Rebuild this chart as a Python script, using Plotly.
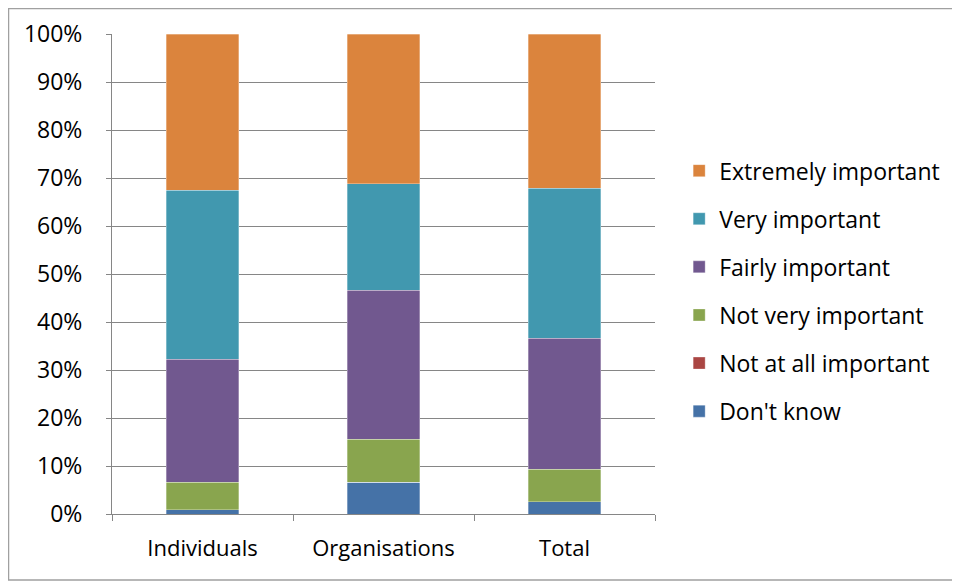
import plotly.graph_objects as go

categories = ["Individuals", "Organisations", "Total"]
series_names = ["Don't know", "Not at all important", "Not very important",
                "Fairly important", "Very important", "Extremely important"]
dont_know = [0.9, 6.6, 2.6]
not_at_all = [0.0, 0.0, 0.0]
not_very = [5.7, 9.0, 6.7]
fairly = [25.6, 31.0, 27.3]
very = [35.2, 22.2, 31.3]
extremely = [32.6, 31.2, 32.1]
colors = ["#4572A7", "#AA4643", "#89A54E", "#71588F", "#4198AF", "#DB843D"]
y_ticks = [0, 10, 20, 30, 40, 50, 60, 70, 80, 90, 100]
y_tick_text = [f"{v}%" for v in y_ticks]

values = [dont_know, not_at_all, not_very, fairly, very, extremely]

fig = go.Figure()
for i, (name, vals, col) in enumerate(zip(series_names, values, colors)):
    fig.add_trace(go.Bar(
        x=categories, y=vals, name=name, legendgroup=name,
        legendrank=100 - i,
        marker=dict(color=col, line=dict(width=0.6, color="rgba(255,255,255,0.5)")),
    ))

font = "'Open Sans', sans-serif"
W, H = 952, 573
fig.update_layout(
    barmode="stack",
    bargap=0.6,
    width=W, height=H,
    margin=dict(l=104, r=305, t=26, b=67, autoexpand=False),
    paper_bgcolor="white", plot_bgcolor="white",
    font=dict(family=font, size=23, color="black"),
    showlegend=True,
    legend=dict(traceorder="grouped", tracegroupgap=15.2,
                x=1.0445, xanchor="left", y=0.76, yanchor="top",
                font=dict(size=23), itemwidth=30),
    xaxis=dict(showline=True, linecolor="#868686", linewidth=1, automargin=False,
               ticks="outside", tickson="boundaries", ticklen=6, tickcolor="#868686",
               showgrid=False, tickfont=dict(size=22), ticklabelstandoff=15),
    yaxis=dict(range=[0, 100], tickmode="array", tickvals=y_ticks, ticktext=y_tick_text,
               showline=True, linecolor="#868686", linewidth=1, automargin=False,
               ticks="outside", ticklen=5, tickcolor="#868686",
               showgrid=True, gridcolor="#868686", gridwidth=1,
               zeroline=False, tickfont=dict(size=23), ticklabelstandoff=19),
    shapes=[dict(type="rect", xref="paper", yref="paper",
                 x0=(0.5 - 104) / 543, x1=(947 - 104) / 543,
                 y0=-(572 - 506) / 480, y1=(506 - 0.5) / 480,
                 line=dict(color="#A0A0A0", width=1.5), fillcolor="rgba(0,0,0,0)",
                 layer="below")],
)

fig.write_html("out.html")
